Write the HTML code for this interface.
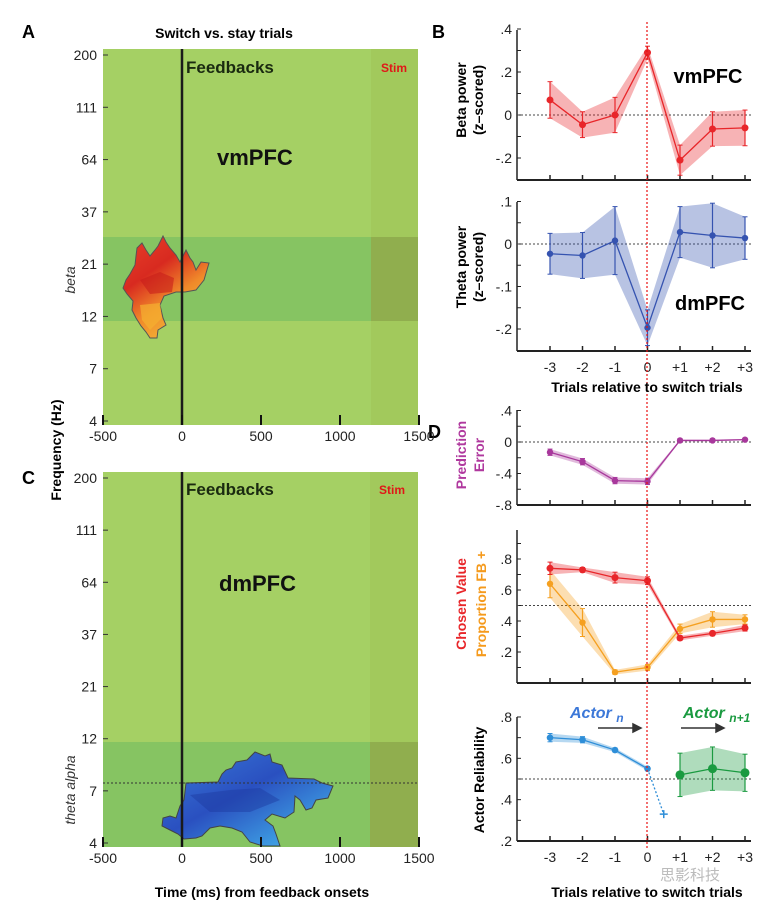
<!DOCTYPE html>
<html><head><meta charset="utf-8">
<style>
html,body{margin:0;padding:0;background:#fff;}
svg{display:block;font-family:"Liberation Sans","Noto Sans CJK SC",sans-serif;}
.b{font-weight:bold;}
</style></head>
<body>
<svg id="fig" width="777" height="908" viewBox="0 0 777 908" xmlns="http://www.w3.org/2000/svg">
<defs>
<linearGradient id="hot" x1="0" y1="0" x2="0.6" y2="1">
<stop offset="0" stop-color="#e8402a"/><stop offset="0.4" stop-color="#d82a20"/><stop offset="0.7" stop-color="#f08a2a"/><stop offset="1" stop-color="#f5b838"/></linearGradient>
<linearGradient id="cold" x1="0" y1="0" x2="1" y2="1">
<stop offset="0" stop-color="#3a7ad8"/><stop offset="0.45" stop-color="#2a50c0"/><stop offset="0.8" stop-color="#3c98e0"/><stop offset="1" stop-color="#50c0e8"/></linearGradient>
</defs>

<text x="22" y="38" font-size="18" class="b">A</text>
<text x="22" y="484" font-size="18" class="b">C</text>
<text x="432" y="38" font-size="18" class="b">B</text>
<text x="428" y="438" font-size="18" class="b">D</text>
<text x="224" y="38" font-size="14" class="b" text-anchor="middle">Switch vs. stay trials</text>

<g>
<rect x="103" y="49" width="315" height="376" fill="#a5d064"/>
<rect x="371" y="49" width="47" height="376" fill="#a2c95c"/>
<rect x="103" y="237" width="268" height="84" fill="#86c462"/>
<rect x="371" y="237" width="47" height="84" fill="#90ae4e"/>
<path d="M137,248 L142,243 L146,250 L150,256 L155,250 L158,246 L161,240 L163,236 L166,242 L170,248 L176,255 L180,262 L186,250 L190,258 L193,262 L196,270 L201,262 L209,263 L204,280 L196,290 L185,292 L176,292 L164,296 L160,305 L163,318 L166,325 L158,330 L157,338 L150,338 L146,332 L141,326 L136,318 L132,310 L133,301 L127,294 L123,288 L126,280 L130,274 L135,265 L136,256 Z" fill="url(#hot)" stroke="#555" stroke-width="1"/>
<path d="M140,280 L160,272 L174,278 L172,292 L150,294 Z" fill="#c81e1a" opacity="0.6"/>
<path d="M140,305 L160,303 L162,318 L150,330 L142,320 Z" fill="#f5b030" opacity="0.7"/>
<line x1="182" y1="49" x2="182" y2="425" stroke="#1a1a1a" stroke-width="2.5"/>
<text x="186" y="73" font-size="17" class="b" fill="#1a2a10">Feedbacks</text>
<text x="381" y="72" font-size="12" class="b" fill="#e01818">Stim</text>
<text x="217" y="165" font-size="22" class="b" fill="#111">vmPFC</text>
</g>
<g id="axA"></g>

<g>
<rect x="103" y="472" width="315" height="375" fill="#a5d064"/>
<rect x="370" y="472" width="48" height="375" fill="#a2c95c"/>
<rect x="103" y="742" width="267" height="105" fill="#86c462"/>
<rect x="370" y="742" width="48" height="105" fill="#90ae4e"/>
<path d="M186,783 L218,782 L222,774 L226,770 L232,768 L236,762 L247,760 L255,752 L265,756 L270,754 L272,762 L282,765 L288,778 L314,779 L322,783 L333,786 L328,798 L316,800 L312,808 L306,810 L300,800 L295,796 L294,812 L285,818 L272,814 L265,820 L273,826 L276,834 L280,846 L263,846 L250,842 L242,832 L232,828 L220,826 L210,828 L202,836 L196,838 L184,839 L178,834 L170,830 L162,826 L163,818 L170,816 L176,818 L180,806 L184,800 Z" fill="url(#cold)" stroke="#444" stroke-width="1"/>
<path d="M190,795 L230,790 L260,788 L280,800 L250,812 L210,812 Z" fill="#1c3aa0" opacity="0.45"/>
<line x1="103" y1="783" x2="418" y2="783" stroke="#333" stroke-width="1" stroke-dasharray="2,2"/>
<line x1="182" y1="472" x2="182" y2="847" stroke="#1a1a1a" stroke-width="2.5"/>
<text x="186" y="495" font-size="17" class="b" fill="#1a2a10">Feedbacks</text>
<text x="379" y="494" font-size="12" class="b" fill="#e01818">Stim</text>
<text x="219" y="591" font-size="22" class="b" fill="#111">dmPFC</text>
</g>
<g id="axC"></g>

<text transform="translate(61,450) rotate(-90)" font-size="14" class="b" text-anchor="middle">Frequency (Hz)</text>
<text transform="translate(75,280) rotate(-90)" font-size="14" font-style="italic" text-anchor="middle" fill="#333">beta</text>
<text transform="translate(75,790) rotate(-90)" font-size="14" font-style="italic" text-anchor="middle" fill="#333">theta alpha</text>
<text x="262" y="897" font-size="14" class="b" text-anchor="middle">Time (ms) from  feedback onsets</text>

<g id="right"></g>
<line x1="647" y1="22" x2="647" y2="850" stroke="#e81010" stroke-width="1.2" stroke-dasharray="2,2"/>

<text x="708" y="83" font-size="20" class="b" text-anchor="middle">vmPFC</text>
<text x="710" y="310" font-size="20" class="b" text-anchor="middle">dmPFC</text>
<text transform="translate(466,100) rotate(-90)" font-size="14" class="b" text-anchor="middle">Beta power</text>
<text transform="translate(483,100) rotate(-90)" font-size="14" class="b" text-anchor="middle">(z–scored)</text>
<text transform="translate(466,267) rotate(-90)" font-size="14" class="b" text-anchor="middle">Theta power</text>
<text transform="translate(483,267) rotate(-90)" font-size="14" class="b" text-anchor="middle">(z–scored)</text>
<text x="647" y="392" font-size="14" class="b" text-anchor="middle">Trials relative to switch trials</text>

<text transform="translate(466,455) rotate(-90)" font-size="14" class="b" fill="#b0389e" text-anchor="middle">Prediction</text>
<text transform="translate(484,455) rotate(-90)" font-size="14" class="b" fill="#b0389e" text-anchor="middle">Error</text>
<text transform="translate(466,604) rotate(-90)" font-size="14" class="b" fill="#e8262a" text-anchor="middle">Chosen Value</text>
<text transform="translate(486,604) rotate(-90)" font-size="14" class="b" fill="#f59a1c" text-anchor="middle">Proportion FB +</text>
<text transform="translate(484,780) rotate(-90)" font-size="14" class="b" text-anchor="middle">Actor Reliability</text>
<text x="647" y="897" font-size="14" class="b" text-anchor="middle">Trials relative to switch trials</text>
<text x="570" y="718" font-size="16" class="b" font-style="italic" fill="#3c78d8">Actor <tspan font-size="12" dy="4">n</tspan></text>
<text x="683" y="718" font-size="16" class="b" font-style="italic" fill="#1a9a40">Actor <tspan font-size="12" dy="4">n+1</tspan></text>
<g stroke="#333" stroke-width="1.5" fill="#333">
<line x1="598" y1="728" x2="636" y2="728"/><path d="M641,728 L633,724 L633,732 Z"/>
<line x1="681" y1="728" x2="719" y2="728"/><path d="M724,728 L716,724 L716,732 Z"/>
</g>
<text x="690" y="880" font-size="15" fill="#bbb" text-anchor="middle">思影科技</text>

<script>
const NS='http://www.w3.org/2000/svg';
function mk(parent,tag,attrs){const e=document.createElementNS(NS,tag);for(const k in attrs)e.setAttribute(k,attrs[k]);parent.appendChild(e);return e;}

const freqTicks=['200','111','64','37','21','12','7','4'];
const timeTicks=[-500,0,500,1000,1500];
function heatAxes(g,top,bottom){
  const step=(bottom-4-(top+6))/(freqTicks.length-1);
  freqTicks.forEach((t,i)=>{const y=top+6+i*step;
    const tk=mk(g,'line',{x1:103,x2:108,y1:y,y2:y,stroke:'#333'});
    
    
    const tx=mk(g,'text',{x:97,y:y+5,'font-size':14,'text-anchor':'end',fill:'#222'});tx.textContent=t;
    
    
  });
  timeTicks.forEach(t=>{const x=182+t*0.158;
    const tk=mk(g,'line',{x1:x,x2:x,y1:bottom-10,y2:bottom,stroke:'#111','stroke-width':2});
    
    
    const tx=mk(g,'text',{x:x,y:bottom+16,'font-size':14,'text-anchor':'middle',fill:'#222'});tx.textContent=String(t);
    
    
  });
}
heatAxes(document.getElementById('axA'),49,425);
heatAxes(document.getElementById('axC'),472,847);

const trialLabels=['-3','-2','-1','0','+1','+2','+3'];
const betaVals=[0.07,-0.045,0,0.29,-0.21,-0.065,-0.06];
const betaErr=[0.085,0.06,0.082,0.03,0.07,0.08,0.083];
const thetaVals=[-0.023,-0.027,0.008,-0.197,0.028,0.02,0.014];
const thetaErr=[0.048,0.054,0.08,0.042,0.06,0.076,0.05];
const peVals=[-0.13,-0.25,-0.49,-0.5,0.02,0.02,0.03];
const peErr=[0.04,0.04,0.04,0.04,0.01,0.01,0.01];
const cvVals=[0.74,0.73,0.68,0.66,0.29,0.32,0.355];
const cvErr=[0.04,0.015,0.035,0.025,0.015,0.015,0.02];
const fbVals=[0.64,0.39,0.07,0.1,0.35,0.41,0.41];
const fbErr=[0.09,0.09,0.015,0.02,0.03,0.05,0.03];
const actorNIdx=[0,1,2,3];
const actorNVals=[0.70,0.69,0.64,0.55];
const actorNErr=[0.02,0.015,0.01,0.01];
const actorNext=[3.5,0.33];
const actorN1Idx=[4,5,6];
const actorN1Vals=[0.52,0.55,0.53];
const actorN1Err=[0.105,0.105,0.09];

const betaTicks=[0.4,0.2,0,-0.2];
const thetaTicks=[0.1,0,-0.1,-0.2];
const peTicks=[0.4,0,-0.4,-0.8];
const cvTicks=[0.8,0.6,0.4,0.2];
const arTicks=[0.8,0.6,0.4,0.2];
const tickText=v=>v===0?'0':(v<0?'-':'')+String(Math.abs(v)).replace(/^0/,'');

const xT=i=>550+i*32.5;
const R=document.getElementById('right');

function panel(name,top,bottom,yf,ticks,minor,refVal,showX){
  const g=mk(R,'g',{});
  
  
  mk(g,'line',{x1:517,x2:517,y1:top,y2:bottom,stroke:'#222','stroke-width':1.5});
  mk(g,'line',{x1:517,x2:751,y1:bottom,y2:bottom,stroke:'#222','stroke-width':2});
  minor.forEach(v=>mk(g,'line',{x1:517,x2:521,y1:yf(v),y2:yf(v),stroke:'#222'}));
  ticks.forEach(v=>{const t=mk(g,'text',{x:512,y:yf(v)+5,'font-size':14,'text-anchor':'end',fill:'#222'});t.textContent=tickText(v);
    
    });
  trialLabels.forEach((l,i)=>{mk(g,'line',{x1:xT(i),x2:xT(i),y1:bottom-5,y2:bottom,stroke:'#222','stroke-width':1.5});
    if(showX){const t=mk(g,'text',{x:xT(i),y:bottom+21,'font-size':14,'text-anchor':'middle',fill:'#222'});t.textContent=l;
      
      }});
  mk(g,'line',{x1:517,x2:751,y1:yf(refVal),y2:yf(refVal),stroke:'#444','stroke-dasharray':'2,2'});
}
function series(name,idx,vals,err,yf,color,r){
  const g=mk(R,'g',{});
  
  
  const up=idx.map((ix,k)=>xT(ix)+','+yf(vals[k]+err[k]));
  const dn=idx.map((ix,k)=>xT(ix)+','+yf(vals[k]-err[k])).reverse();
  mk(g,'polygon',{points:up.concat(dn).join(' '),fill:color,'fill-opacity':0.35});
  mk(g,'polyline',{points:idx.map((ix,k)=>xT(ix)+','+yf(vals[k])).join(' '),fill:'none',stroke:color,'stroke-width':1.3});
  idx.forEach((ix,k)=>{const x=xT(ix);
    mk(g,'line',{x1:x,x2:x,y1:yf(vals[k]+err[k]),y2:yf(vals[k]-err[k]),stroke:color,'stroke-width':1.2});
    mk(g,'line',{x1:x-2.5,x2:x+2.5,y1:yf(vals[k]+err[k]),y2:yf(vals[k]+err[k]),stroke:color});
    mk(g,'line',{x1:x-2.5,x2:x+2.5,y1:yf(vals[k]-err[k]),y2:yf(vals[k]-err[k]),stroke:color});
    const c=mk(g,'circle',{cx:x,cy:yf(vals[k]),r:r,fill:color});
    
    
  });
}
const all=[0,1,2,3,4,5,6];
const yB=v=>115-v*215, yTh=v=>244-v*425, yP=v=>442-v*78.75, yC=v=>652-(v-0.2)*155, yA=v=>841-(v-0.2)*206.7;

panel('beta-power',30,180,yB,betaTicks,[0.4,0.3,0.2,0.1,0,-0.1,-0.2],0,false);
series('beta-power-series',all,betaVals,betaErr,yB,'#e8262a',3.5);
panel('theta-power',202,351,yTh,thetaTicks,[0.1,0.05,0,-0.05,-0.1,-0.15,-0.2],0,true);
series('theta-power-series',all,thetaVals,thetaErr,yTh,'#3553b0',3.2);
panel('prediction-error',410,505,yP,peTicks,[0.4,0.2,0,-0.2,-0.4,-0.6],0,false);
series('prediction-error-series',all,peVals,peErr,yP,'#a8389c',3.2);
panel('chosen-value',530,683,yC,cvTicks,[0.9,0.8,0.7,0.6,0.5,0.4,0.3,0.2,0.1],0.5,false);
series('proportion-fb-series',all,fbVals,fbErr,yC,'#f5a020',3.2);
series('chosen-value-series',all,cvVals,cvErr,yC,'#e8262a',3.5);
panel('actor-reliability',717,841,yA,arTicks,[0.8,0.7,0.6,0.5,0.4,0.3],0.5,true);
series('actor-n-series',actorNIdx,actorNVals,actorNErr,yA,'#2e8ed8',3.3);
series('actor-n1-series',actorN1Idx,actorN1Vals,actorN1Err,yA,'#1a9a40',4.5);
{const g=mk(R,'g',{});
 
 
 const x0=xT(3),y0=yA(actorNVals[3]),x1=550+actorNext[0]*32.5,y1=yA(actorNext[1]);
 mk(g,'line',{x1:x0,y1:y0,x2:x1,y2:y1,stroke:'#2e8ed8','stroke-dasharray':'2,2','stroke-width':1.3});
 mk(g,'line',{x1:x1-4,x2:x1+4,y1:y1,y2:y1,stroke:'#2e8ed8','stroke-width':1.5});
 mk(g,'line',{x1:x1,x2:x1,y1:y1-4,y2:y1+4,stroke:'#2e8ed8','stroke-width':1.5});}
</script>
</svg>
</body></html>
